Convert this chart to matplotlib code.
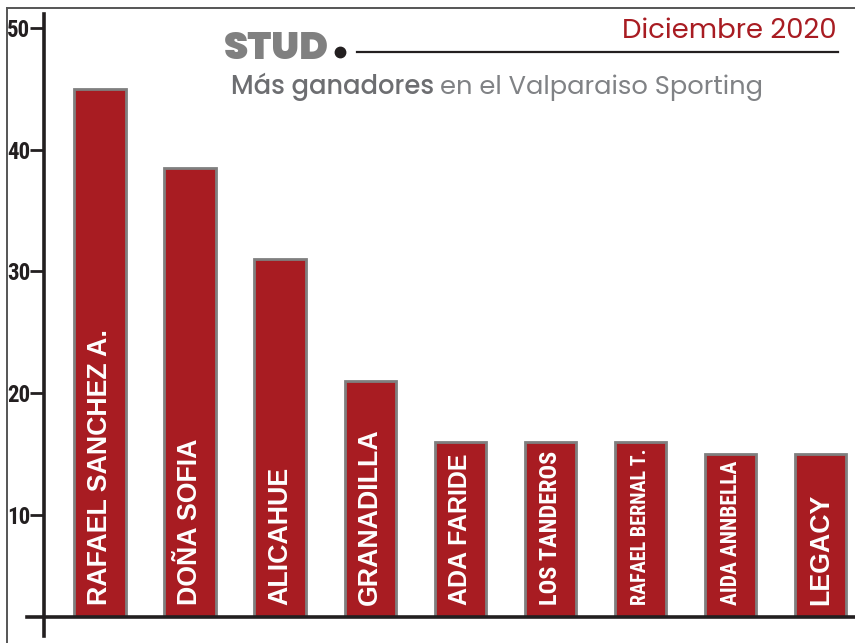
import matplotlib
matplotlib.use("Agg")
import matplotlib.pyplot as plt
from matplotlib.lines import Line2D

studs = ["RAFAEL SANCHEZ A.", "DOÑA SOFIA", "ALICAHUE", "GRANADILLA", "ADA FARIDE",
         "LOS TANDEROS", "RAFAEL BERNAL T.", "AIDA ANNBELLA", "LEGACY"]
ganadores = [45, 38.5, 31, 21, 16, 16, 16, 15, 15]
yticks = [10, 20, 30, 40, 50]

W, H = 855, 643
RED = "#a81c22"
NARROW = ["Roboto Condensed", "PT Sans Narrow", "DejaVu Sans"]
ARIAL = ["Liberation Sans", "DejaVu Sans"]
GEO = ["Poppins", "Open Sans", "DejaVu Sans"]

fig = plt.figure(figsize=(W / 100, H / 100), dpi=100)

def fx(px):
    return px / W

def fy(py):
    return 1 - py / H

# axes: left spine at x=44, baseline at y=617, top at y=14
ax = fig.add_axes([fx(44), fy(617), fx(855) - fx(44), fy(14) - fy(617)])
x = list(range(len(studs)))
ax.bar(x, ganadores, width=0.57, color=RED, edgecolor="#7f7f7f", linewidth=2)
ax.set_xlim(-0.621, 8.38)
ax.set_ylim(1.62, 51.15)

# the three long names are set in a condensed face in the original
condensed = {"LOS TANDEROS": 17.5, "RAFAEL BERNAL T.": 14.5, "AIDA ANNBELLA": 15.5}
for xi, name in zip(x, studs):
    if name in condensed:
        fam, size = NARROW, condensed[name]
    else:
        fam, size = ARIAL, (18 if name == "ADA FARIDE" else 19.3)
    ax.text(xi, 2.6, name, rotation=90, ha="center", va="bottom", color="white",
            fontsize=size, fontweight="bold", family=fam)

for s in ax.spines.values():
    s.set_visible(False)
ax.set_xticks([])
ax.set_yticks(yticks)
ax.set_yticklabels([str(t) for t in yticks], fontsize=16.5, fontweight="bold", family=NARROW, color="#231f20")
ax.tick_params(axis="y", length=10, width=2, color="#231f20", pad=0)

# axis lines
fig.add_artist(Line2D([fx(44), fx(44)], [fy(636), fy(14)], color="#231f20", lw=2.6))
fig.add_artist(Line2D([fx(27), fx(855)], [fy(617), fy(617)], color="#231f20", lw=2.6))

# frame (top and left)
fig.add_artist(Line2D([fx(7), fx(7)], [fy(8), 0], color="#555555", lw=1.4))
fig.add_artist(Line2D([fx(7), 1], [fy(8), fy(8)], color="#555555", lw=1.4))

# header
fig.text(fx(837), fy(38), "Diciembre 2020", ha="right", va="baseline", color=RED,
         fontsize=19.8, family=GEO)
stud = fig.text(fx(224), fy(59), "STUD", ha="left", va="baseline", color="#808080",
                fontsize=28, fontweight="black", family=GEO)
fig.canvas.draw()
sx = stud.get_window_extent().x1 / W
fig.add_artist(Line2D([sx + fx(11)], [fy(52)], marker="o", markersize=7.5, color="#231f20"))
fig.add_artist(Line2D([sx + fx(28), fx(838)], [fy(52), fy(52)], color="#231f20", lw=1.6))

t1 = fig.text(fx(231), fy(94), "Más ganadores", ha="left", va="baseline",
              color="#6d6e71", fontsize=18.5, family=GEO, fontweight="medium")
fig.canvas.draw()
bb = t1.get_window_extent()
fig.text(bb.x1 / W + fx(6), fy(94), "en el Valparaiso Sporting", ha="left", va="baseline",
         color="#808285", fontsize=18.5, family=GEO)

fig.savefig("out.png", dpi=100)
